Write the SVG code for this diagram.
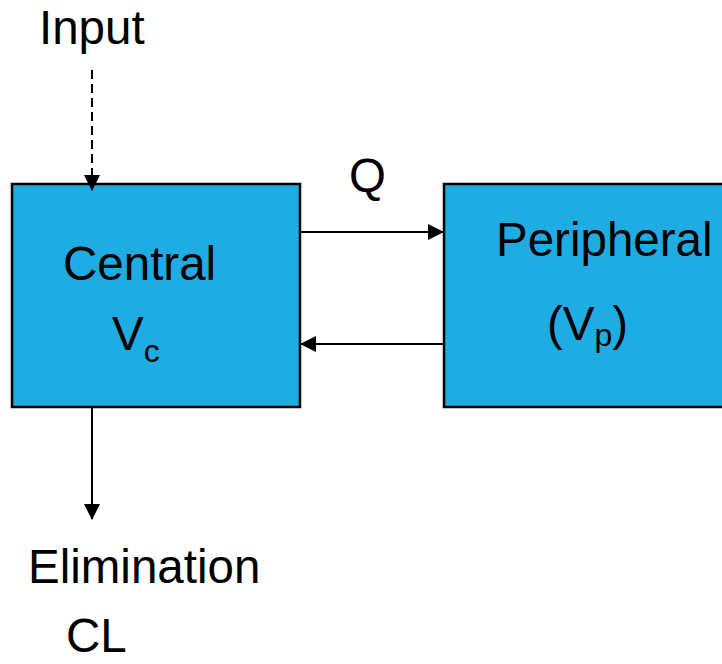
<svg xmlns="http://www.w3.org/2000/svg" width="722" height="664" viewBox="0 0 722 664">
<style>
.box{fill:#1FACE3;stroke:#000;stroke-width:2.5}
.t{font-family:"Liberation Sans",Arial,sans-serif;font-size:47.5px;fill:#000}
.sub{font-size:32px}
.c{stroke:#000;stroke-width:2;fill:none}
</style>
<defs>
<marker id="ah" markerWidth="16" markerHeight="16" refX="15" refY="8" orient="auto" markerUnits="userSpaceOnUse">
<path d="M0,0 L16,8 L0,16 Z" fill="#000"/>
</marker>
</defs>
<rect width="722" height="664" fill="#fff"/>
<g id="central">
<rect class="box" x="12" y="184" width="288" height="223"/>
<text class="t" x="63" y="280">Central</text>
<text class="t" x="112" y="350">V<tspan class="sub" dy="12">c</tspan></text>
</g>
<g id="peripheral">
<rect class="box" x="444" y="184" width="290" height="223"/>
<text class="t" x="496" y="256">Peripheral</text>
<text class="t" x="547" y="340">(V<tspan class="sub" dy="6">p</tspan><tspan dy="-6">)</tspan></text>
</g>
<g id="labels">
<text class="t" x="39" y="44">Input</text>
<text class="t" x="349" y="192">Q</text>
<text class="t" x="28" y="583">Elimination</text>
<text class="t" x="66" y="652">CL</text>
</g>
<g id="connectors">
<line class="c" x1="92" y1="70" x2="92" y2="190" stroke-dasharray="9,5" marker-end="url(#ah)"/>
<line class="c" x1="300" y1="232" x2="443" y2="232" marker-end="url(#ah)"/>
<line class="c" x1="444" y1="344" x2="301" y2="344" marker-end="url(#ah)"/>
<line class="c" x1="92" y1="408" x2="92" y2="519" marker-end="url(#ah)"/>
</g>
</svg>
